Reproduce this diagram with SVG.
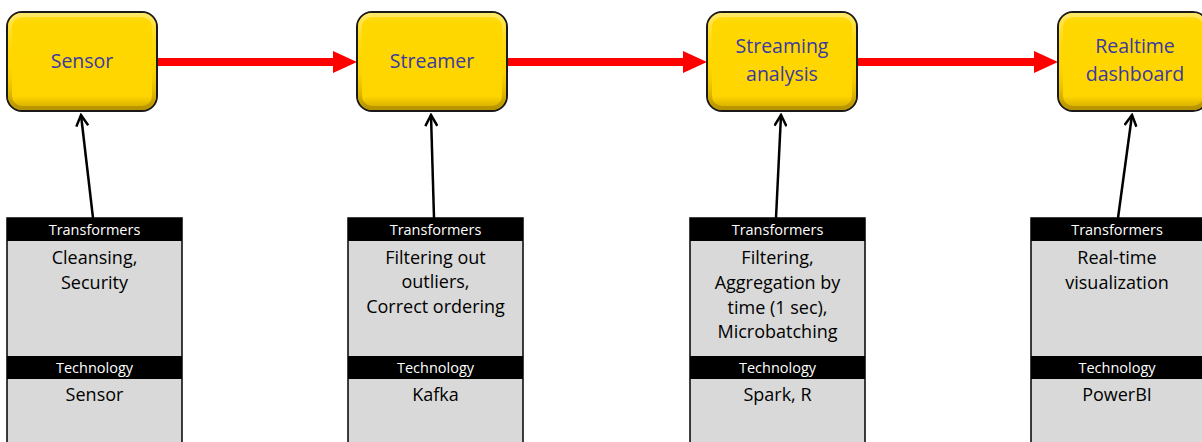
<svg xmlns="http://www.w3.org/2000/svg" width="1202" height="442" viewBox="0 0 1202 442">
<style>
.box{fill:url(#yg);stroke:#1a1a1a;stroke-width:2}
.bevel{fill:none;stroke:url(#bv);stroke-width:4}
.bt{font-family:"Open Sans","Liberation Sans",sans-serif;font-size:19.5px;fill:#3a3aa0;text-anchor:middle}
.panel{fill:#d9d9d9;stroke:#000;stroke-width:1.5}
.hdr{fill:#000}
.ht{font-family:"Open Sans","Liberation Sans",sans-serif;font-size:14.5px;fill:#fff;text-anchor:middle}
.pt{font-family:"Open Sans","Liberation Sans",sans-serif;font-size:18px;fill:#000;text-anchor:middle}
.red{stroke:#ff0000;stroke-width:8;fill:none}
.blk{stroke:#000;stroke-width:2.5;fill:none}
</style>
<defs>
<linearGradient id="yg" x1="0" y1="0" x2="0" y2="1">
<stop offset="0" stop-color="#ffe033"/>
<stop offset="0.1" stop-color="#ffd800"/>
<stop offset="0.85" stop-color="#ffd500"/>
<stop offset="1" stop-color="#c9a400"/>
</linearGradient>
<linearGradient id="bv" x1="0" y1="0" x2="0" y2="1">
<stop offset="0" stop-color="#ffe866"/>
<stop offset="0.5" stop-color="#ffd700" stop-opacity="0"/>
<stop offset="1" stop-color="#b89400"/>
</linearGradient>
<marker id="oa" markerWidth="14" markerHeight="14" refX="12" refY="7" orient="auto" markerUnits="userSpaceOnUse">
<path d="M1,1 L12,7 L1,13" fill="none" stroke="#000" stroke-width="2.5"/>
</marker>
</defs>

<g id="connectors">
<line class="red" x1="158" y1="62" x2="335" y2="62"/>
<polygon points="333,51 357,62 333,73" fill="#ff0000"/>
<line class="red" x1="508" y1="62" x2="685" y2="62"/>
<polygon points="683,51 707,62 683,73" fill="#ff0000"/>
<line class="red" x1="858" y1="62" x2="1036" y2="62"/>
<polygon points="1034,51 1058,62 1034,73" fill="#ff0000"/>
<line class="blk" x1="93" y1="218" x2="81" y2="115" marker-end="url(#oa)"/>
<line class="blk" x1="434" y1="218" x2="431" y2="115" marker-end="url(#oa)"/>
<line class="blk" x1="776" y1="218" x2="781" y2="115" marker-end="url(#oa)"/>
<line class="blk" x1="1118" y1="218" x2="1132" y2="115" marker-end="url(#oa)"/>
</g>

<g id="sensor">
<rect class="box" x="7" y="12" width="150" height="99" rx="15"/>
<rect class="bevel" x="10" y="15" width="144" height="93" rx="12"/>
<text class="bt" x="82" y="68">Sensor</text>
</g>
<g id="streamer">
<rect class="box" x="357" y="12" width="150" height="99" rx="15"/>
<rect class="bevel" x="360" y="15" width="144" height="93" rx="12"/>
<text class="bt" x="432" y="68">Streamer</text>
</g>
<g id="streaming-analysis">
<rect class="box" x="707" y="12" width="150" height="99" rx="15"/>
<rect class="bevel" x="710" y="15" width="144" height="93" rx="12"/>
<text class="bt" x="782" y="53">Streaming</text>
<text class="bt" x="782" y="81">analysis</text>
</g>
<g id="realtime-dashboard">
<rect class="box" x="1058" y="12" width="150" height="99" rx="15"/>
<rect class="bevel" x="1061" y="15" width="144" height="93" rx="12"/>
<text class="bt" x="1135" y="53">Realtime</text>
<text class="bt" x="1135" y="81">dashboard</text>
</g>

<g id="panel-sensor">
<rect class="panel" x="7" y="218" width="175" height="230"/>
<rect class="hdr" x="7" y="218" width="175" height="23"/>
<rect class="hdr" x="7" y="356" width="175" height="23"/>
<text class="ht" x="94.5" y="235">Transformers</text>
<text class="pt" x="94.5" y="264">Cleansing,</text>
<text class="pt" x="94.5" y="289">Security</text>
<text class="ht" x="94.5" y="373">Technology</text>
<text class="pt" x="94.5" y="401">Sensor</text>
</g>
<g id="panel-streamer">
<rect class="panel" x="348" y="218" width="175" height="230"/>
<rect class="hdr" x="348" y="218" width="175" height="23"/>
<rect class="hdr" x="348" y="356" width="175" height="23"/>
<text class="ht" x="435.5" y="235">Transformers</text>
<text class="pt" x="435.5" y="264">Filtering out</text>
<text class="pt" x="435.5" y="288">outliers,</text>
<text class="pt" x="435.5" y="313">Correct ordering</text>
<text class="ht" x="435.5" y="373">Technology</text>
<text class="pt" x="435.5" y="401">Kafka</text>
</g>
<g id="panel-analysis">
<rect class="panel" x="690" y="218" width="175" height="230"/>
<rect class="hdr" x="690" y="218" width="175" height="23"/>
<rect class="hdr" x="690" y="356" width="175" height="23"/>
<text class="ht" x="777.5" y="235">Transformers</text>
<text class="pt" x="777.5" y="264">Filtering,</text>
<text class="pt" x="777.5" y="289">Aggregation by</text>
<text class="pt" x="777.5" y="314">time (1 sec),</text>
<text class="pt" x="777.5" y="338">Microbatching</text>
<text class="ht" x="777.5" y="373">Technology</text>
<text class="pt" x="777.5" y="401">Spark, R</text>
</g>
<g id="panel-dashboard">
<rect class="panel" x="1031" y="218" width="175" height="230"/>
<rect class="hdr" x="1031" y="218" width="175" height="23"/>
<rect class="hdr" x="1031" y="356" width="175" height="23"/>
<text class="ht" x="1117" y="235">Transformers</text>
<text class="pt" x="1117" y="264">Real-time</text>
<text class="pt" x="1117" y="289">visualization</text>
<text class="ht" x="1117" y="373">Technology</text>
<text class="pt" x="1117" y="401">PowerBI</text>
</g>
</svg>
